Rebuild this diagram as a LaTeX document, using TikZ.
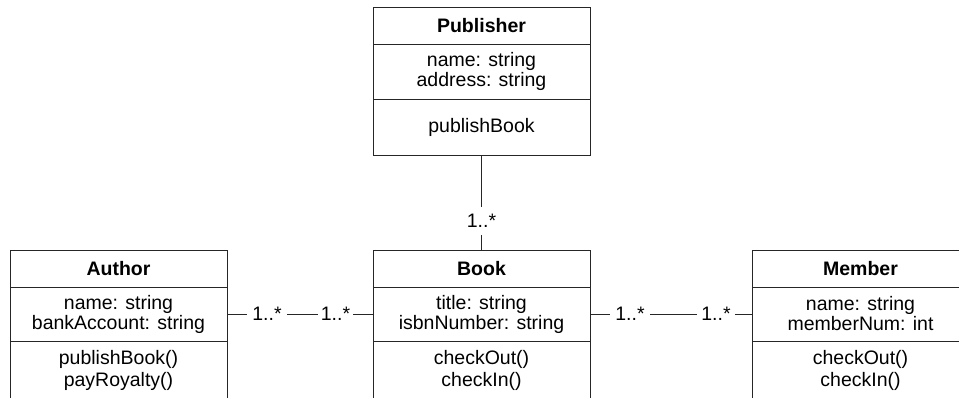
\documentclass[tikz,border=0pt]{standalone}
\usepackage{fontspec}
\setmainfont{Liberation Sans}
\begin{document}
\begin{tikzpicture}[x=1pt,y=1pt,
  box/.style={draw=black!85, line width=0.9pt, minimum width=217pt, inner sep=0pt, outer sep=0pt,
    align=center, font=\fontsize{19.5}{20}\selectfont},
  hdr/.style={box, minimum height=37pt, font=\fontsize{19.5}{20}\selectfont\bfseries},
  attr/.style={box, minimum height=54pt},
  ops/.style={box, minimum height=60pt},
  mult/.style={inner sep=0pt, outer sep=0pt, minimum width=#1, minimum height=20pt,
    font=\fontsize{19.5}{20}\selectfont},
  conn/.style={draw=black!85, line width=0.9pt}
]
\clip (0,0) rectangle (959,-397);
\fill[white] (0,0) rectangle (959,-397);

% Publisher
\node[hdr, anchor=north west] (pub-h) at (373,-7) {Publisher};
\node[attr, anchor=north, minimum height=55pt] (pub-a) at (pub-h.south) {name: string\\address: string};
\node[ops, anchor=north, minimum height=56pt] (pub-o) at (pub-a.south) {publishBook};

% Author
\node[hdr, anchor=north west] (aut-h) at (10,-250) {Author};
\node[attr, anchor=north] (aut-a) at (aut-h.south) {name: string\\bankAccount: string};
\node[ops, anchor=north] (aut-o) at (aut-a.south) {\raisebox{5pt}{\shortstack{publishBook()\\payRoyalty()}}};

% Book
\node[hdr, anchor=north west] (book-h) at (373,-250) {Book};
\node[attr, anchor=north] (book-a) at (book-h.south) {title: string\\isbnNumber: string};
\node[ops, anchor=north] (book-o) at (book-a.south) {\raisebox{5pt}{\shortstack{checkOut()\\checkIn()}}};

% Member
\node[hdr, anchor=north west] (mem-h) at (752,-250) {Member};
\node[attr, anchor=north] (mem-a) at (mem-h.south) {name: string\\memberNum: int};
\node[ops, anchor=north] (mem-o) at (mem-a.south) {\raisebox{5pt}{\shortstack{checkOut()\\checkIn()}}};

% multiplicities
\node[mult=40pt] (m1) at (267,-314) {1..*};
\node[mult=35pt] (m2) at (335.5,-314) {1..*};
\node[mult=40pt] (m3) at (630,-314) {1..*};
\node[mult=38pt] (m4) at (716,-314) {1..*};
\node[mult=30pt, minimum height=28pt] (m5) at (481.5,-221) {1..*};

% connectors
\draw[conn] (aut-a.east) -- (m1) -- (m2) -- (book-a.west);
\draw[conn] (book-a.east) -- (m3) -- (m4) -- (mem-a.west);
\draw[conn] (pub-o.south) -- (m5) -- (book-h.north);
\end{tikzpicture}
\end{document}
